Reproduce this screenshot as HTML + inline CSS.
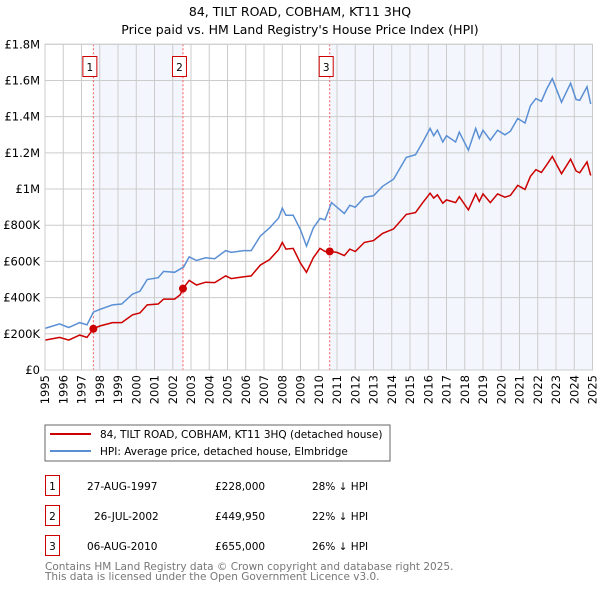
<!DOCTYPE html>
<html><head><meta charset="utf-8"><style>
body{margin:0;background:#fff;font-family:"DejaVu Sans","Liberation Sans",sans-serif;}
#c{position:relative;width:600px;height:590px;overflow:hidden}
svg text{font-family:"DejaVu Sans","Liberation Sans",sans-serif}
</style></head><body>
<div id="c">
<svg id="s" width="600" height="590">
<text x="300" y="16" text-anchor="middle" font-size="12.5" fill="#000">84, TILT ROAD, COBHAM, KT11 3HQ</text>
<text x="300" y="34" text-anchor="middle" font-size="12.5" fill="#000">Price paid vs. HM Land Registry's House Price Index (HPI)</text>
<g id="grid"></g><g id="series"></g><g id="axes"></g>
<rect x="45" y="425" width="345" height="36" fill="#fff" stroke="#666"/>
<line x1="50" y1="434" x2="91" y2="434" stroke="#cc0000" stroke-width="2"/>
<text x="100" y="438" font-size="10.5">84, TILT ROAD, COBHAM, KT11 3HQ (detached house)</text>
<line x1="50" y1="451" x2="91" y2="451" stroke="#5b8fd4" stroke-width="2"/>
<text x="100" y="455" font-size="10.5">HPI: Average price, detached house, Elmbridge</text>
<g font-size="10.5">
<rect x="45.5" y="475.5" width="14" height="20" fill="none" stroke="#cc0000"/><text x="52.5" y="490" text-anchor="middle">1</text>
<text x="87" y="490">27-AUG-1997</text><text x="215" y="490">£228,000</text><text x="312" y="490">28% ↓ HPI</text>
<rect x="45.5" y="505.5" width="14" height="20" fill="none" stroke="#cc0000"/><text x="52.5" y="520" text-anchor="middle">2</text>
<text x="94" y="520">26-JUL-2002</text><text x="215" y="520">£449,950</text><text x="312" y="520">22% ↓ HPI</text>
<rect x="45.5" y="535.5" width="14" height="20" fill="none" stroke="#cc0000"/><text x="52.5" y="550" text-anchor="middle">3</text>
<text x="87" y="550">06-AUG-2010</text><text x="215" y="550">£655,000</text><text x="312" y="550">26% ↓ HPI</text>
</g>
<text x="45" y="570" font-size="10.5" fill="#777">Contains HM Land Registry data © Crown copyright and database right 2025.</text>
<text x="45" y="580" font-size="10.5" fill="#777">This data is licensed under the Open Government Licence v3.0.</text>
</svg></div>
<script>
const hpiYears=[1995.0,1995.8,1996.3,1996.9,1997.3,1997.65,1998.0,1998.7,1999.2,1999.8,2000.2,2000.6,2001.2,2001.5,2002.1,2002.6,2002.9,2003.3,2003.8,2004.3,2004.9,2005.2,2005.9,2006.3,2006.8,2007.3,2007.8,2008.0,2008.2,2008.6,2009.0,2009.33,2009.7,2010.07,2010.35,2010.7,2011.4,2011.7,2012.0,2012.5,2013.0,2013.5,2014.1,2014.8,2015.3,2015.7,2016.1,2016.3,2016.5,2016.8,2017.0,2017.5,2017.7,2018.2,2018.6,2018.8,2019.0,2019.4,2019.8,2020.2,2020.5,2020.9,2021.3,2021.6,2021.9,2022.2,2022.5,2022.8,2023.3,2023.8,2024.1,2024.3,2024.7,2024.9];
const hpiValues=[230,255,235,262,250,320,335,360,365,420,435,500,510,545,540,570,625,605,620,615,660,650,660,660,740,785,840,895,855,855,775,685,785,838,830,925,865,910,900,955,963,1015,1055,1175,1190,1260,1335,1295,1325,1260,1295,1260,1315,1215,1335,1280,1325,1270,1325,1300,1320,1390,1365,1460,1500,1485,1555,1610,1480,1585,1495,1490,1565,1470];
const ppYears=[1995.0,1995.8,1996.3,1996.9,1997.3,1997.65,1998.0,1998.7,1999.2,1999.8,2000.2,2000.6,2001.2,2001.5,2002.1,2002.4,2002.56,2002.9,2003.3,2003.8,2004.3,2004.9,2005.2,2005.9,2006.3,2006.8,2007.3,2007.8,2008.0,2008.2,2008.6,2009.0,2009.33,2009.7,2010.07,2010.35,2010.6,2011.0,2011.4,2011.7,2012.0,2012.5,2013.0,2013.5,2014.1,2014.8,2015.3,2015.7,2016.1,2016.3,2016.5,2016.8,2017.0,2017.5,2017.7,2018.2,2018.6,2018.8,2019.0,2019.4,2019.8,2020.2,2020.5,2020.9,2021.3,2021.6,2021.9,2022.2,2022.5,2022.8,2023.3,2023.8,2024.1,2024.3,2024.7,2024.9];
const ppValues=[165,180,165,193,180,228,243,262,262,305,315,360,365,392,392,415,450,495,470,485,483,520,505,515,520,580,610,665,705,668,672,590,540,620,672,655,655,650,632,668,655,705,715,755,780,860,870,925,977,950,968,922,940,925,958,885,973,932,973,925,973,955,965,1020,998,1070,1107,1092,1135,1180,1085,1165,1100,1090,1150,1075];
const saleYears=[1997.65,2002.56,2010.6];
const saleValues=[228,449.95,655];
const saleLabels=["1","2","3"];
const yTicks=[0,200,400,600,800,1000,1200,1400,1600,1800];
const yTickLabels=["£0","£200K","£400K","£600K","£800K","£1M","£1.2M","£1.4M","£1.6M","£1.8M"];
const xTicks=[1995,1996,1997,1998,1999,2000,2001,2002,2003,2004,2005,2006,2007,2008,2009,2010,2011,2012,2013,2014,2015,2016,2017,2018,2019,2020,2021,2022,2023,2024,2025];

const X0=45,X1=592.5,Y0=370,Y1=44.3;
const xs=v=>X0+(v-1995)/30*(X1-X0);
const ys=v=>Y0-v/1800*(Y0-Y1);
const NS="http://www.w3.org/2000/svg";
function mk(t,a,p){const e=document.createElementNS(NS,t);for(const k in a)e.setAttribute(k,a[k]);p.appendChild(e);return e;}
const g=document.getElementById('grid'),se=document.getElementById('series'),ax=document.getElementById('axes');
let sh=mk('rect',{x:xs(saleYears[0]),y:Y1,width:xs(saleYears[1])-xs(saleYears[0]),height:Y0-Y1,fill:'#eef3fc',opacity:0.7},g);


let sh2=mk('rect',{x:xs(saleYears[2]),y:Y1,width:X1-xs(saleYears[2]),height:Y0-Y1,fill:'#eef3fc',opacity:0.7},g);


yTicks.forEach((v,i)=>{
 const l=mk('line',{x1:X0,x2:X1,y1:ys(v),y2:ys(v),stroke:'#ccc','stroke-width':1},g);
 
 
 const t=mk('text',{x:X0-5,y:ys(v)+4,'text-anchor':'end','font-size':'11.5'},ax);
 t.textContent=yTickLabels[i];
 
 
});
xTicks.forEach(v=>{
 const l=mk('line',{x1:xs(v),x2:xs(v),y1:Y1,y2:Y0,stroke:'#ccc','stroke-width':1},g);
 
 
 const t=mk('text',{x:0,y:0,'text-anchor':'end','font-size':'11.5',transform:`translate(${xs(v)+4},${Y0+5}) rotate(-90)`},ax);
 t.textContent=v;
 
 
});
saleYears.forEach((v,i)=>{
 const l=mk('line',{x1:xs(v),x2:xs(v),y1:Y1,y2:Y0,stroke:'#ff5555','stroke-width':1,'stroke-dasharray':'2,2'},g);
 
 
 const r=mk('rect',{x:xs(v)-10.5,y:56.5,width:14,height:20,fill:'#fff',stroke:'#cc0000'},ax);
 
 
 const t=mk('text',{x:xs(v)-3.5,y:71,'text-anchor':'middle','font-size':'10.5'},ax);
 t.textContent=saleLabels[i];
 
 
});
function path(xa,va){return xa.map((x,i)=>(i?'L':'M')+xs(x).toFixed(1)+','+ys(va[i]).toFixed(1)).join('');}
const hp=mk('path',{d:path(hpiYears,hpiValues),fill:'none',stroke:'#5b8fd4','stroke-width':1.5},se);


const pp=mk('path',{d:path(ppYears,ppValues),fill:'none',stroke:'#cc0000','stroke-width':1.5},se);


saleYears.forEach((v,i)=>{
 const c=mk('circle',{cx:xs(v),cy:ys(saleValues[i]),r:4,fill:'#cc0000'},se);
 
 
});
const b=mk('rect',{x:X0,y:Y1,width:X1-X0,height:Y0-Y1,fill:'none',stroke:'#ccc'},ax);


</script>
</body></html>
